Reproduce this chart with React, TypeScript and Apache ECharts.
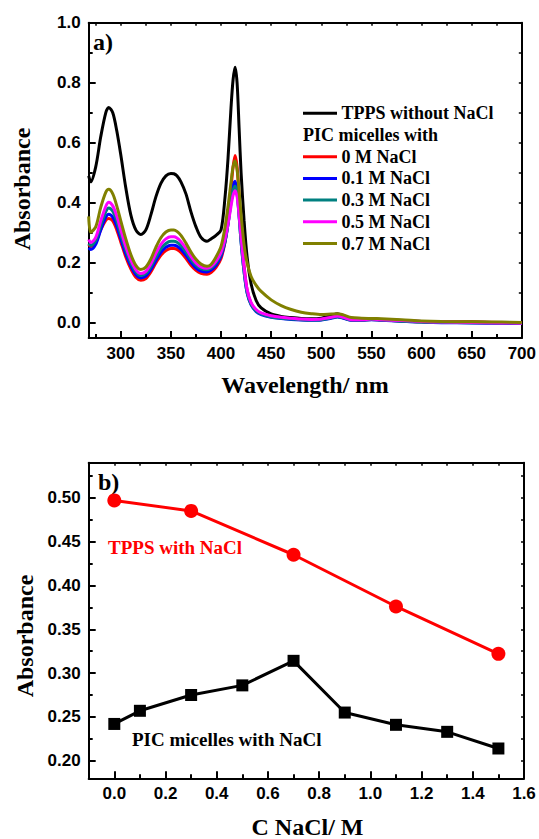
import React, { useEffect, useRef } from "react";
import * as echarts from "echarts";

// ---------- Panel a) UV-vis spectra ----------
const wavelengths = [268, 270, 275, 280, 285, 288, 292, 296, 300, 305, 310, 315, 320, 325, 330, 335, 340, 345, 350, 353, 356, 360, 365, 370, 375, 380, 386, 390, 395, 400, 404, 407, 410, 412, 414, 416, 418, 420, 423, 426, 430, 435, 440, 450, 460, 470, 480, 490, 500, 510, 516, 522, 530, 540, 550, 560, 580, 600, 620, 650, 680, 700];

const tppsWithoutNaCl = [0.49, 0.47, 0.52, 0.62, 0.70, 0.718, 0.70, 0.64, 0.56, 0.45, 0.36, 0.31, 0.295, 0.31, 0.36, 0.42, 0.465, 0.49, 0.498, 0.497, 0.49, 0.47, 0.43, 0.37, 0.32, 0.285, 0.272, 0.28, 0.292, 0.31, 0.42, 0.55, 0.72, 0.81, 0.852, 0.80, 0.65, 0.50, 0.34, 0.22, 0.13, 0.075, 0.05, 0.03, 0.022, 0.018, 0.015, 0.014, 0.016, 0.024, 0.031, 0.024, 0.013, 0.012, 0.014, 0.012, 0.008, 0.005, 0.003, 0.003, 0.001, 0.0];
const pic0M = [0.262, 0.255, 0.27, 0.31, 0.342, 0.348, 0.34, 0.31, 0.27, 0.22, 0.18, 0.152, 0.142, 0.148, 0.17, 0.2, 0.225, 0.241, 0.248, 0.248, 0.245, 0.235, 0.215, 0.192, 0.175, 0.165, 0.162, 0.168, 0.185, 0.215, 0.27, 0.34, 0.45, 0.52, 0.558, 0.52, 0.42, 0.31, 0.19, 0.11, 0.065, 0.042, 0.032, 0.022, 0.017, 0.014, 0.012, 0.011, 0.012, 0.018, 0.022, 0.018, 0.01, 0.01, 0.012, 0.01, 0.007, 0.004, 0.003, 0.003, 0.002, 0.001];
const pic01M = [0.25, 0.245, 0.262, 0.31, 0.352, 0.362, 0.352, 0.322, 0.28, 0.23, 0.19, 0.161, 0.15, 0.156, 0.178, 0.208, 0.235, 0.252, 0.259, 0.259, 0.256, 0.245, 0.225, 0.201, 0.183, 0.173, 0.17, 0.176, 0.192, 0.222, 0.27, 0.33, 0.41, 0.455, 0.472, 0.44, 0.36, 0.27, 0.17, 0.1, 0.06, 0.038, 0.028, 0.019, 0.015, 0.012, 0.01, 0.009, 0.01, 0.016, 0.02, 0.016, 0.009, 0.009, 0.011, 0.009, 0.006, 0.003, 0.001, 0.0, -0.001, -0.002];
const pic03M = [0.265, 0.258, 0.275, 0.325, 0.37, 0.383, 0.372, 0.34, 0.295, 0.243, 0.2, 0.17, 0.158, 0.165, 0.188, 0.22, 0.248, 0.265, 0.272, 0.272, 0.269, 0.258, 0.237, 0.212, 0.193, 0.181, 0.177, 0.183, 0.2, 0.23, 0.275, 0.33, 0.4, 0.44, 0.455, 0.43, 0.355, 0.27, 0.17, 0.102, 0.062, 0.04, 0.03, 0.02, 0.016, 0.013, 0.011, 0.01, 0.011, 0.017, 0.021, 0.017, 0.01, 0.01, 0.012, 0.01, 0.006, 0.003, 0.002, 0.001, 0.0, -0.001];
const pic05M = [0.278, 0.268, 0.285, 0.34, 0.388, 0.402, 0.39, 0.356, 0.31, 0.255, 0.21, 0.178, 0.165, 0.172, 0.197, 0.232, 0.262, 0.28, 0.287, 0.287, 0.283, 0.271, 0.248, 0.222, 0.2, 0.187, 0.182, 0.188, 0.206, 0.236, 0.28, 0.33, 0.39, 0.425, 0.44, 0.42, 0.36, 0.285, 0.185, 0.112, 0.068, 0.045, 0.034, 0.024, 0.019, 0.016, 0.013, 0.012, 0.013, 0.019, 0.023, 0.019, 0.011, 0.011, 0.013, 0.011, 0.008, 0.005, 0.003, 0.002, 0.0, -0.001];
const pic07M = [0.355, 0.302, 0.32, 0.385, 0.435, 0.445, 0.43, 0.39, 0.34, 0.28, 0.228, 0.192, 0.178, 0.186, 0.213, 0.252, 0.284, 0.303, 0.31, 0.31, 0.305, 0.292, 0.266, 0.236, 0.212, 0.196, 0.189, 0.195, 0.22, 0.255, 0.32, 0.39, 0.47, 0.52, 0.54, 0.51, 0.44, 0.36, 0.26, 0.2, 0.155, 0.125, 0.105, 0.077, 0.058, 0.045, 0.036, 0.031, 0.028, 0.03, 0.031, 0.027, 0.018, 0.016, 0.015, 0.014, 0.011, 0.007, 0.005, 0.004, 0.003, 0.002];

const spectraNames = ["TPPS without NaCl", "0 M NaCl", "0.1 M NaCl", "0.3 M NaCl", "0.5 M NaCl", "0.7 M NaCl"];
const spectraColors = ["#000000", "#ff0000", "#0000ff", "#008080", "#ff00ff", "#808000"];
const spectraValues = [tppsWithoutNaCl, pic0M, pic01M, pic03M, pic05M, pic07M];
const legendSubHeader = "PIC micelles with";

const xMajorA = [300, 350, 400, 450, 500, 550, 600, 650, 700];
const xMinorA = [275, 325, 375, 425, 475, 525, 575, 625, 675];
const xTopA = [275, 300, 325, 350, 375, 400, 425, 450, 475, 500, 525, 550, 575, 600, 625, 650, 675];
const yMajorA = [0, 0.2, 0.4, 0.6, 0.8, 1.0];
const yMinorA = [0.1, 0.3, 0.5, 0.7, 0.9];
const yRightA = [0.1, 0.2, 0.3, 0.4, 0.5, 0.6, 0.7, 0.8, 0.9];

// ---------- Panel b) Soret absorbance vs NaCl ----------
const picConc = [0, 0.1, 0.3, 0.5, 0.7, 0.9, 1.1, 1.3, 1.5];
const picAbs = [0.242, 0.257, 0.275, 0.286, 0.314, 0.255, 0.241, 0.233, 0.214];
const tppsConc = [0, 0.3, 0.7, 1.1, 1.5];
const tppsAbs = [0.497, 0.485, 0.435, 0.376, 0.322];

const xMajorB = [0, 0.2, 0.4, 0.6, 0.8, 1.0, 1.2, 1.4, 1.6];
const xMinorB = [0.1, 0.3, 0.5, 0.7, 0.9, 1.1, 1.3, 1.5];
const xTopB = [0, 0.1, 0.2, 0.3, 0.4, 0.5, 0.6, 0.7, 0.8, 0.9, 1.0, 1.1, 1.2, 1.3, 1.4, 1.5];
const yMajorB = [0.2, 0.25, 0.3, 0.35, 0.4, 0.45, 0.5];
const yMinorB = [0.225, 0.275, 0.325, 0.375, 0.425, 0.475, 0.525];
const yRightB = [0.2, 0.225, 0.25, 0.275, 0.3, 0.325, 0.35, 0.375, 0.4, 0.425, 0.45, 0.475, 0.5, 0.525];

const SERIF = "Liberation Serif";
const SANS = "Liberation Sans";

function serifText(text: string, x: number, y: number, size: number, color: string, align: string, rotation = 0): any {
  return {
    type: "text",
    x,
    y,
    rotation,
    style: {
      text,
      fontFamily: SERIF,
      fontWeight: "bold",
      fontSize: size,
      fill: color,
      align,
      verticalAlign: "middle",
    },
  };
}

function axisSet(dim: "x" | "y", gridIndex: number, min: number, max: number, majors: number[], minors: number[], mirror: number[], digits: number) {
  const main: any = {
    type: "value",
    gridIndex,
    position: dim === "x" ? "bottom" : "left",
    min,
    max,
    axisLine: { show: true, onZero: false, lineStyle: { color: "#000", width: 2 } },
    axisTick: { show: true, inside: true, length: 7, lineStyle: { color: "#000", width: 2 }, customValues: majors },
    axisLabel: {
      show: true,
      customValues: majors,
      formatter: (v: number) => v.toFixed(digits),
      color: "#000",
      fontFamily: SANS,
      fontWeight: "bold",
      fontSize: 17,
      margin: dim === "x" ? 7 : 8,
    },
    splitLine: { show: false },
  };
  const minor: any = {
    type: "value",
    gridIndex,
    position: dim === "x" ? "bottom" : "left",
    min,
    max,
    axisLine: { show: false, onZero: false },
    axisTick: { show: true, inside: true, length: 4, lineStyle: { color: "#000", width: 2 }, customValues: minors },
    axisLabel: { show: false },
    splitLine: { show: false },
  };
  const mir: any = {
    type: "value",
    gridIndex,
    position: dim === "x" ? "top" : "right",
    min,
    max,
    axisLine: { show: true, onZero: false, lineStyle: { color: "#000", width: 2 } },
    axisTick: { show: true, inside: true, length: 3, lineStyle: { color: "#000", width: 1.5 }, customValues: mirror },
    axisLabel: { show: false },
    splitLine: { show: false },
  };
  return [main, minor, mir];
}

export default function App() {
  const ref = useRef<HTMLDivElement>(null);
  useEffect(() => {
    document.body.style.margin = "0";
    if (!ref.current) return;
    const chart = echarts.init(ref.current, null, { renderer: "svg" });

    const spectraSeries = spectraNames.map((name, i) => ({
      type: "line",
      name,
      xAxisIndex: 0,
      yAxisIndex: 0,
      data: wavelengths.map((w, j) => [w, spectraValues[i][j]]),
      showSymbol: false,
      smooth: 0.3,
      lineStyle: { color: spectraColors[i], width: 3 },
      itemStyle: { color: spectraColors[i] },
      z: 2 + i,
    }));

    const legendRowY = (k: number) => 113.3 + 21.7 * k;
    const legendGraphics: any[] = [];
    spectraNames.forEach((name, i) => {
      const row = i === 0 ? 0 : i + 1;
      const y = legendRowY(row);
      legendGraphics.push({
        type: "line",
        shape: { x1: 303, y1: y, x2: 337, y2: y },
        style: { stroke: spectraColors[i], lineWidth: 3 },
      });
      legendGraphics.push(serifText(name, 341.5, y, 18, "#000", "left"));
    });
    legendGraphics.push(serifText(legendSubHeader, 303, legendRowY(1), 18, "#000", "left"));

    const option: any = {
      animation: false,
      backgroundColor: "#fff",
      grid: [
        { left: 88.7, right: 15, top: 22.7, height: 315.3, containLabel: false },
        { left: 88.7, right: 15, top: 462.7, height: 315.6, containLabel: false },
      ],
      xAxis: [
        ...axisSet("x", 0, 268, 700, xMajorA, xMinorA, xTopA, 0),
        ...axisSet("x", 1, -0.1, 1.6, xMajorB, xMinorB, xTopB, 1),
      ],
      yAxis: [
        ...axisSet("y", 0, -0.05, 1.0, yMajorA, yMinorA, yRightA, 1),
        ...axisSet("y", 1, 0.18, 0.54, yMajorB, yMinorB, yRightB, 2),
      ],
      series: [
        ...spectraSeries,
        {
          type: "line",
          name: "TPPS with NaCl",
          xAxisIndex: 3,
          yAxisIndex: 3,
          data: tppsConc.map((c, i) => [c, tppsAbs[i]]),
          symbol: "circle",
          symbolSize: 14,
          lineStyle: { color: "#ff0000", width: 3 },
          itemStyle: { color: "#ff0000" },
        },
        {
          type: "line",
          name: "PIC micelles with NaCl",
          xAxisIndex: 3,
          yAxisIndex: 3,
          data: picConc.map((c, i) => [c, picAbs[i]]),
          symbol: "rect",
          symbolSize: 12,
          lineStyle: { color: "#000000", width: 3 },
          itemStyle: { color: "#000000" },
        },
      ],
      graphic: [
        serifText("a)", 93, 41.5, 24, "#000", "left"),
        serifText("b)", 98, 482, 24, "#000", "left"),
        serifText("Absorbance", 22, 189, 24, "#000", "center", Math.PI / 2),
        serifText("Absorbance", 25, 636, 24, "#000", "center", Math.PI / 2),
        serifText("Wavelength/ nm", 305, 385, 24, "#000", "center"),
        serifText("C NaCl/ M", 307.5, 827, 24, "#000", "center"),
        serifText("TPPS with NaCl", 108, 547.5, 19, "#ff0000", "left"),
        serifText("PIC micelles with NaCl", 132, 739, 19, "#000", "left"),
        ...legendGraphics,
      ],
    };
    chart.setOption(option);
    return () => chart.dispose();
  }, []);
  return <div ref={ref} style={{ width: 539, height: 839 }} />;
}
